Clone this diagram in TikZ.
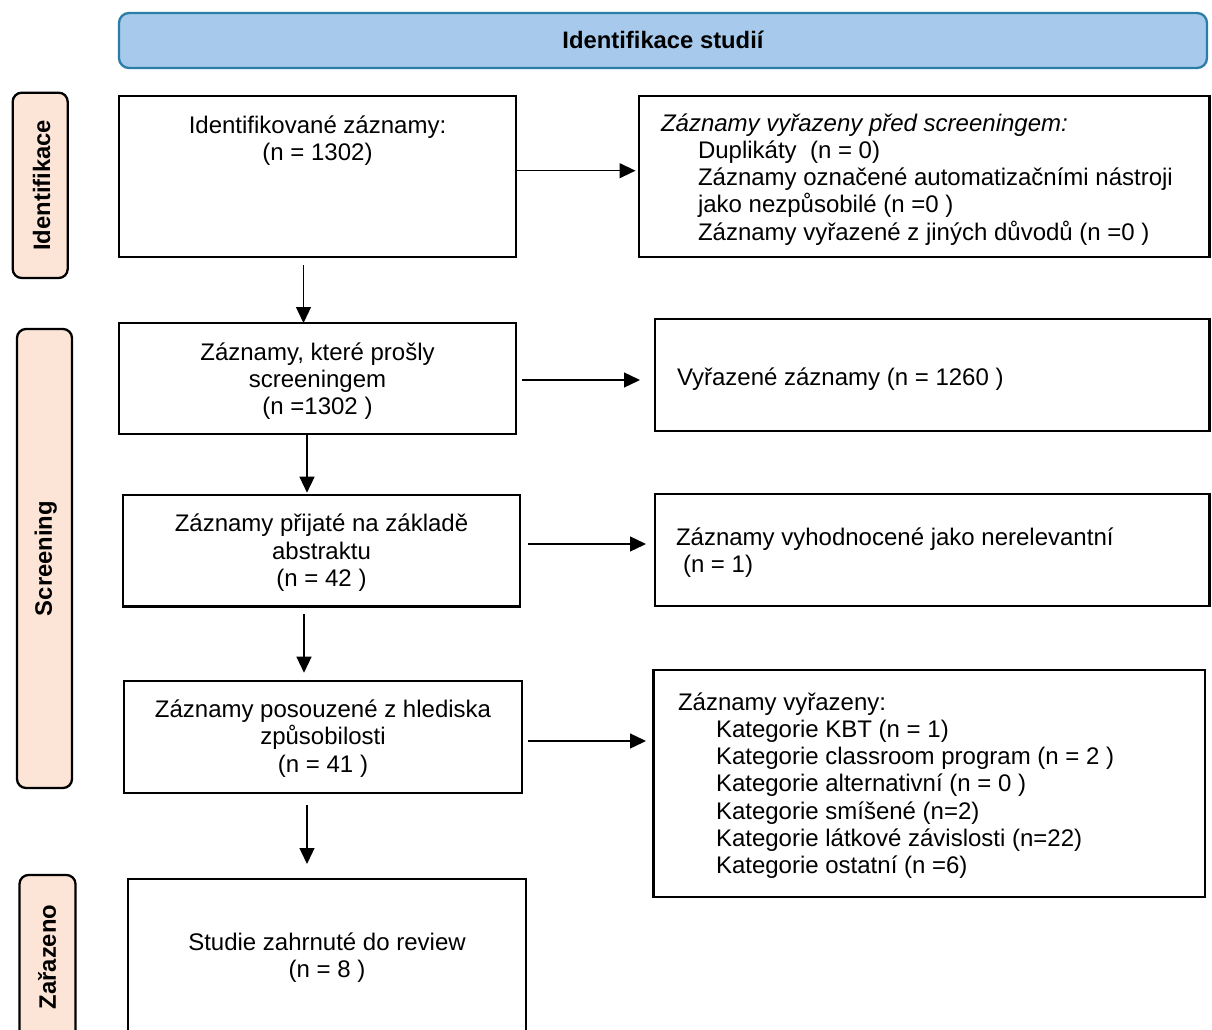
\documentclass[tikz,border=0pt]{standalone}
\usepackage{fontspec}
\setmainfont{Liberation Sans}
\usetikzlibrary{arrows.meta,calc}
\definecolor{hdrfill}{HTML}{A7CAEC}
\definecolor{hdrline}{HTML}{2A7DA6}
\definecolor{peach}{HTML}{FCE4D7}
\newcommand{\zzs}{\rule{0pt}{23pt}}
\setlength{\lineskiplimit}{-50pt}
\begin{document}
\begin{tikzpicture}[x=1pt,y=-1pt,
  box/.style={draw=black, line width=2.3pt, inner sep=0pt, outer sep=0pt, fill=white},
  hdr/.style={draw=hdrline, fill=hdrfill, line width=2.3pt, rounded corners=10pt, inner sep=0pt, outer sep=0pt,
    font=\bfseries\fontsize{23.8}{27}\selectfont},
  lbl/.style={draw=black, fill=peach, line width=2.3pt, rounded corners=9pt, inner sep=0pt, outer sep=0pt,
    rotate=90, font=\bfseries\fontsize{23.8}{27}\selectfont},
  txt/.style={inner sep=0pt, outer sep=0pt, anchor=north, align=center,
    font=\fontsize{24}{27.3}\selectfont},
  ltxt/.style={txt, anchor=north west, align=left},
  arr/.style={line width=1.3pt, -{Triangle[length=16pt,width=15pt]}}
]
\useasboundingbox (0,0) rectangle (1212,1030);
\clip (0,0) rectangle (1212,1030);

% header
\node[hdr, minimum width=1088pt, minimum height=55pt, text height=16.5pt, text depth=0pt] (hdr) at (663,40.5) {Identifikace studií};

% phase labels
\node[lbl, minimum width=185.3pt, minimum height=55pt, text height=20pt, text depth=0pt] (L1) at (40.2,185.35) {Identifikace};
\node[lbl, minimum width=459pt, minimum height=55pt, text height=16.5pt, text depth=2pt] (L2) at (44.5,558.5) {Screening};
\node[lbl, minimum width=164pt, minimum height=56pt, text height=16.5pt, text depth=0pt] (L3) at (47.5,957) {Zařazeno};

% left column boxes
\node[box, minimum width=397pt, minimum height=161pt] (b1) at (317.5,176.5) {};
\node[box, minimum width=397pt, minimum height=111pt] (b2) at (317.5,378.5) {};
\node[box, minimum width=397pt, minimum height=111.5pt] (b3) at (321.5,550.75) {};
\node[box, minimum width=398pt, minimum height=111.7pt] (b4) at (323,736.85) {};
\node[box, minimum width=398pt, minimum height=181pt] (b5) at (327,969.5) {};

% right column boxes
\node[box, minimum width=570.5pt, minimum height=160.7pt] (r1) at (924.25,176.35) {};
\node[box, minimum width=554.5pt, minimum height=112pt] (r2) at (932.25,375) {};
\node[box, minimum width=554.5pt, minimum height=112pt] (r3) at (932.25,550) {};
\node[box, minimum width=551.5pt, minimum height=227pt] (r4) at (929.25,783.5) {};

% texts of left boxes
\node[txt] (t1) at (317.5,110) {\zzs Identifikované záznamy:\\(n = 1302)};
\node[txt] (t2) at (317.5,337) {\zzs Záznamy, které prošly\\screeningem\\(n =1302 )};
\node[txt] (t3) at (321.5,508.7) {\zzs Záznamy přijaté na základě\\abstraktu\\(n = 42 )};
\node[txt] (t4) at (323,694.5) {\zzs Záznamy posouzené z hlediska\\způsobilosti\\(n = 41 )};
\node[txt] (t5) at (327,927) {\zzs Studie zahrnuté do review\\(n = 8 )};

% texts of right boxes
\node[ltxt] (s1) at (661,108) {\zzs\textit{Záznamy vyřazeny před screeningem:}\\
  \hspace*{37pt}Duplikáty\ \ (n = 0)\\
  \hspace*{37pt}Záznamy označené automatizačními nástroji\\
  \hspace*{37pt}jako nezpůsobilé (n =0 )\\
  \hspace*{37pt}Záznamy vyřazené z jiných důvodů (n =0 )};
\node[ltxt] (s2) at (677,362) {\zzs Vyřazené záznamy (n = 1260 )};
\node[ltxt] (s3) at (676,522) {\zzs Záznamy vyhodnocené jako nerelevantní\\\hspace*{7pt}(n = 1)};
\node[ltxt] (s4) at (678,687) {\zzs Záznamy vyřazeny:\\
  \hspace*{38pt}Kategorie KBT (n = 1)\\
  \hspace*{38pt}Kategorie classroom program (n = 2 )\\
  \hspace*{38pt}Kategorie alternativní (n = 0 )\\
  \hspace*{38pt}Kategorie smíšené (n=2)\\
  \hspace*{38pt}Kategorie látkové závislosti (n=22)\\
  \hspace*{38pt}Kategorie ostatní (n =6)};

% horizontal arrows
\draw[arr, shorten >=3.5pt] ([yshift=5.8pt]b1.east) -- ([yshift=5.8pt]b1.east -| r1.west);
\draw[arr, shorten <=6pt, shorten >=15pt] ([yshift=-1.5pt]b2.east) -- ([yshift=-1.5pt]b2.east -| r2.west);
\draw[arr, shorten <=8pt, shorten >=9pt] ([yshift=6.75pt]b3.east) -- ([yshift=6.75pt]b3.east -| r3.west);
\draw[arr, shorten <=6pt, shorten >=7.5pt] ([yshift=-4.15pt]b4.east) -- ([yshift=-4.15pt]b4.east -| r4.west);

% vertical arrows
\draw[arr, shorten <=8pt] ([xshift=-14pt]b1.south) -- ([xshift=-14pt]b1.south |- b2.north);
\draw[arr, shorten >=2.3pt] ([xshift=-10.5pt]b2.south) -- ([xshift=-10.5pt]b2.south |- b3.north);
\draw[arr, shorten <=7.5pt, shorten >=8.3pt] ([xshift=-17.5pt]b3.south) -- ([xshift=-17.5pt]b3.south |- b4.north);
\draw[arr, shorten <=12.3pt, shorten >=15pt] ([xshift=-16pt]b4.south) -- ([xshift=-16pt]b4.south |- b5.north);
\end{tikzpicture}
\end{document}
